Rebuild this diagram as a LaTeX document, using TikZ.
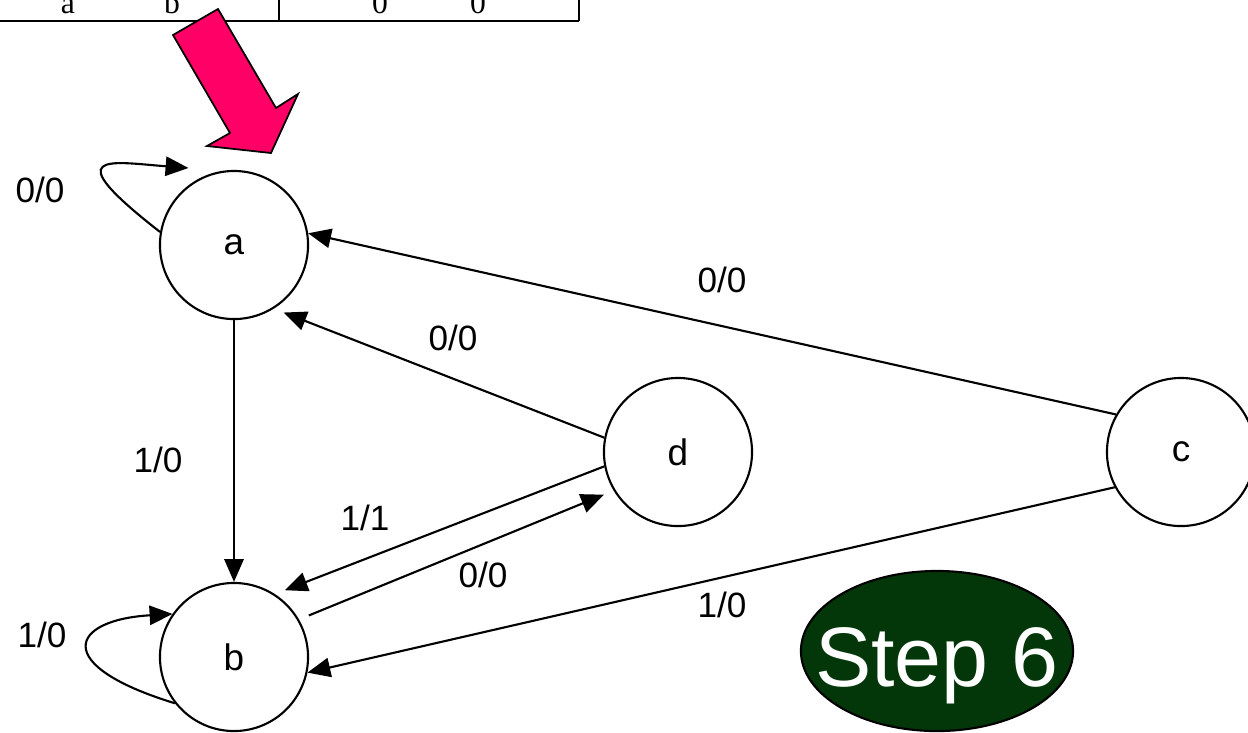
\documentclass[tikz,border=0pt]{standalone}
\usepackage{fontspec}
\setmainfont{Liberation Sans}
\newfontfamily\tablefont{Liberation Serif}
\usepackage{xcolor}
\usepackage{tikz}
\usetikzlibrary{arrows.meta,shapes.geometric}
\definecolor{arrowpink}{RGB}{255,0,102}
\definecolor{stepgreen}{RGB}{3,54,8}

\begin{document}
\begin{tikzpicture}[x=0.01cm,y=-0.01cm,line width=0.6pt,
  >={Triangle[length=6.5pt,width=5.5pt]},
  state/.style={draw,circle,minimum size=1.48cm,inner sep=0pt,font=\fontsize{10.5}{12}\selectfont},
  lbl/.style={font=\fontsize{10}{12}\selectfont},
  cell/.style={font=\tablefont\fontsize{9}{10}\selectfont,anchor=base},
  stepoval/.style={ellipse,draw=black,fill=stepgreen,text=white,minimum width=2.72cm,minimum height=1.6cm,inner sep=0pt,font=\fontsize{24}{28}\selectfont}]
\useasboundingbox (0,0) rectangle (1248,732);
\clip (0,0) rectangle (1248,732);
% table from the step before
\draw (0,21) -- (579,21);
\draw (279,0) -- (279,21);
\draw (579,0) -- (579,21);
\node[cell] (ta) at (68,13) {a};
\node[cell] (tb) at (172,13) {b};
\node[cell] (tx) at (380,13) {0};
\node[cell] (ty) at (478,13) {0};
% pink arrow
\draw[fill=arrowpink,line width=0.5pt] (173,35) -- (218,9) -- (276,108) -- (298,94) -- (271,153) -- (207,146) -- (230,133) -- cycle;
% states
\node[state] (a) at (234,245) {a};
\node[state] (b) at (234,657) {b};
\node[state] (d) at (678,452) {d};
\node[state] (c) at (1181,452) {c};
% transitions
\draw[->] (a.170) .. controls (55,150) and (110,162) .. ([shift={(-8,-12)}]a.120);
\draw[->] (b.218) .. controls (50,665) and (70,620) .. (b.145);
\draw[->] (a.south) -- (b.north);
\draw[->,shorten >=3pt] (d.169) -- (a.-58);
\draw[->] (c.150) -- (a.9);
\draw[->,shorten >=3pt] (d.191) -- (b.57);
\draw[->,shorten <=3pt,shorten >=3pt] (b.30) -- (d.211);
\draw[->] (c.208) -- (b.-12);
% labels
\node[lbl] (la) at (40,190) {0/0};
\node[lbl] (lb) at (42,635) {1/0};
\node[lbl] (lab) at (158,460) {1/0};
\node[lbl] (lda) at (453,338) {0/0};
\node[lbl] (lca) at (722,280) {0/0};
\node[lbl] (ldb) at (365,518) {1/1};
\node[lbl] (lbd) at (483,575) {0/0};
\node[lbl] (lcb) at (722,605) {1/0};
% step badge
\node[stepoval] (badge) at (937,651) {\makebox[0pt]{\raisebox{-10pt}[0pt][0pt]{Step 6}}};
\end{tikzpicture}
\end{document}
